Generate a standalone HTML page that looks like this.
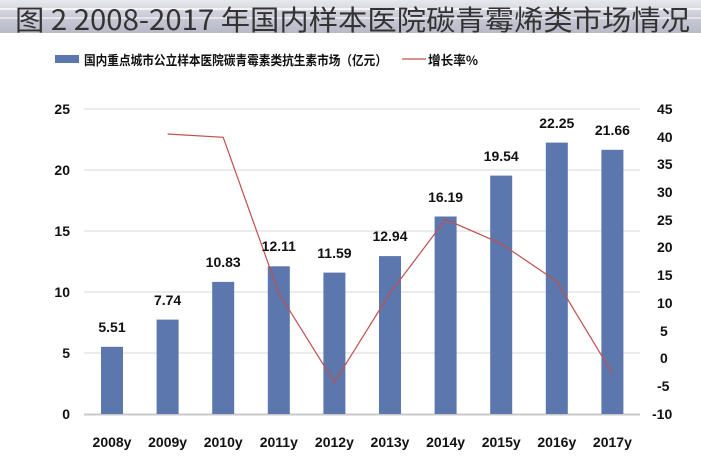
<!DOCTYPE html>
<html><head><meta charset="utf-8"><style>
body{margin:0;width:701px;height:464px;overflow:hidden;background:#fff;}
</style></head><body>
<svg width="701" height="464" xmlns="http://www.w3.org/2000/svg" font-family="'Liberation Sans','Noto Sans CJK SC',sans-serif">
<defs><linearGradient id="g" x1="0" y1="0" x2="0" y2="1">
<stop offset="0" stop-color="#e8e8ee"/><stop offset="0.5" stop-color="#c9cad6"/><stop offset="1" stop-color="#b8bac8"/></linearGradient></defs>
<rect x="0" y="0" width="701" height="33" fill="url(#g)"/>
<rect x="0" y="8" width="701" height="2" fill="#f4f4f8"/>
<rect x="0" y="17" width="701" height="2" fill="#e4e4ec"/>
<text x="15" y="30" font-size="28" fill="#333" font-family="'Noto Sans CJK SC',sans-serif" textLength="675" lengthAdjust="spacingAndGlyphs">图 2  2008-2017 年国内样本医院碳青霉烯类市场情况</text>
<rect x="55" y="55" width="24" height="8" fill="#5b77ad"/>
<text x="84" y="65" font-size="13" font-weight="bold" fill="#111" font-family="'Noto Sans CJK SC',sans-serif" textLength="303" lengthAdjust="spacingAndGlyphs">国内重点城市公立样本医院碳青霉素类抗生素市场（亿元）</text>
<line x1="402" y1="59" x2="426" y2="59" stroke="#c0504d" stroke-width="1.2"/>
<text x="428" y="65" font-size="13" font-weight="bold" fill="#111" font-family="'Noto Sans CJK SC',sans-serif" textLength="50" lengthAdjust="spacingAndGlyphs">增长率%</text>
<g stroke="#d9d9d9" stroke-width="1">
<line x1="84" y1="109" x2="640" y2="109"/><line x1="84" y1="170" x2="640" y2="170"/>
<line x1="84" y1="231" x2="640" y2="231"/><line x1="84" y1="292" x2="640" y2="292"/>
<line x1="84" y1="353" x2="640" y2="353"/></g>
<line x1="84" y1="414.5" x2="640" y2="414.5" stroke="#c8c8c8" stroke-width="2"/>
<g font-size="14" font-weight="bold" fill="#111" text-anchor="end">
<text x="70" y="419">0</text><text x="70" y="358">5</text><text x="70" y="297">10</text>
<text x="70" y="236">15</text><text x="70" y="175">20</text><text x="70" y="114">25</text></g>
<g font-size="14" font-weight="bold" fill="#111" text-anchor="start">
<text x="657" y="114">45</text><text x="657" y="142">40</text><text x="657" y="169">35</text>
<text x="657" y="197">30</text><text x="657" y="225">25</text><text x="657" y="252">20</text>
<text x="657" y="280">15</text><text x="657" y="308">10</text><text x="660" y="336">5</text>
<text x="660" y="363">0</text><text x="657" y="391">-5</text><text x="652" y="419">-10</text></g>
<g fill="#5b77ad">
<rect x="101" y="346.8" width="22" height="67.2"/>
<rect x="156.6" y="319.6" width="22" height="94.4"/>
<rect x="212.2" y="281.9" width="22" height="132.1"/>
<rect x="267.8" y="266.3" width="22" height="147.7"/>
<rect x="323.4" y="272.6" width="22" height="141.4"/>
<rect x="379" y="256.1" width="22" height="157.9"/>
<rect x="434.6" y="216.5" width="22" height="197.5"/>
<rect x="490.2" y="175.6" width="22" height="238.4"/>
<rect x="545.8" y="142.6" width="22" height="271.4"/>
<rect x="601.4" y="149.8" width="22" height="264.2"/></g>
<polyline fill="none" stroke="#c0504d" stroke-width="1.2" points="167.6,134 223.2,137.3 278.8,293.1 334.4,382.3 390,293.1 445.6,219.4 501.2,243.7 556.8,281.4 612.4,373.4"/>
<g font-size="14" font-weight="bold" fill="#111" text-anchor="middle">
<text x="112" y="332">5.51</text><text x="167.6" y="305">7.74</text><text x="223.2" y="267">10.83</text>
<text x="278.8" y="251">12.11</text><text x="334.4" y="258">11.59</text><text x="390" y="241">12.94</text>
<text x="445.6" y="202">16.19</text><text x="501.2" y="161">19.54</text><text x="556.8" y="128">22.25</text>
<text x="612.4" y="135">21.66</text></g>
<g font-size="14" font-weight="bold" fill="#111" text-anchor="middle">
<text x="112" y="447">2008y</text><text x="167.6" y="447">2009y</text><text x="223.2" y="447">2010y</text>
<text x="278.8" y="447">2011y</text><text x="334.4" y="447">2012y</text><text x="390" y="447">2013y</text>
<text x="445.6" y="447">2014y</text><text x="501.2" y="447">2015y</text><text x="556.8" y="447">2016y</text>
<text x="612.4" y="447">2017y</text></g>
</svg>
</body></html>
